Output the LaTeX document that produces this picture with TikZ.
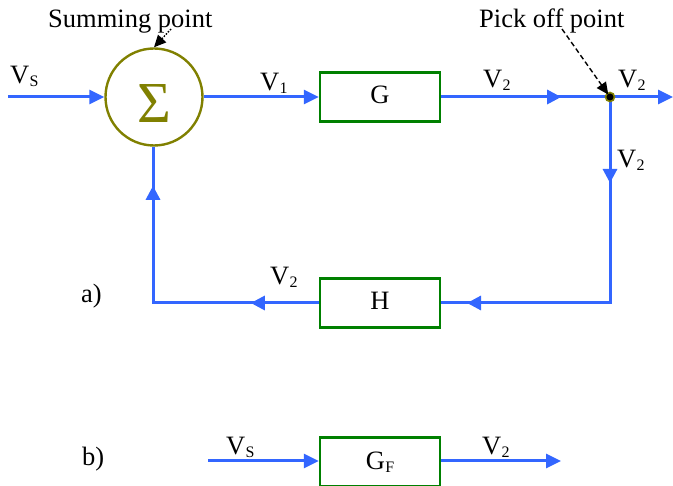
\documentclass[tikz,border=0pt]{standalone}
\usepackage{fontspec}
\setmainfont{Liberation Serif}
\usetikzlibrary{arrows.meta,decorations.markings}
\definecolor{sigblue}{HTML}{3366FF}
\definecolor{boxgreen}{HTML}{008000}
\definecolor{olivec}{HTML}{808000}
\newcommand{\mysub}[1]{\kern0.3pt\raisebox{-2.5pt}{\fontsize{16}{16}\selectfont #1}}
\begin{document}
\begin{tikzpicture}[x=1pt,y=-1pt,
  font=\fontsize{26.5}{30}\selectfont,
  blk/.style={draw=boxgreen,line width=2.4pt,minimum width=120pt,minimum height=49pt,inner sep=0pt,fill=white},
  sig/.style={draw=sigblue,line width=3pt},
  tip/.style={-{Triangle[length=15pt,width=14pt]}},
  lab/.style={anchor=base west,inner sep=0pt}]
\useasboundingbox (0,0) rectangle (673,486);

% blocks
\node[draw=olivec,line width=2.4pt,circle,minimum size=97pt,inner sep=0pt] (S) at (154,97) {};
\node[text=olivec,inner sep=0pt,font=\fontsize{58}{58}\selectfont] (sigma) at (154,104) {Σ};
\node[blk] (G) at (380,97) {\raisebox{4pt}{G}};
\node[blk] (H) at (380,303) {\raisebox{5pt}{H}};
\node[blk] (GF) at (380,462) {G\mysub{F}};

\coordinate (in) at (8,97);
\coordinate (P) at (610,97);
\coordinate (out) at (673,97);
\coordinate (rc) at (610,303);
\coordinate (lc) at (153,303);
\coordinate (bin) at (208,461);
\coordinate (bout) at (561,461);

% connectors a)
\draw[sig,tip] (in) -- (S.west);
\draw[sig,tip] (S.east) -- (G.west);
\draw[sig,postaction={decorate},decoration={markings,
   mark=at position 120pt with {\arrow{Triangle[length=14pt,width=14pt]}}}]
   (G.east) -- (P);
\draw[sig,tip] (P) -- (out);
\draw[sig,postaction={decorate},decoration={markings,
   mark=at position 86pt with {\arrow{Triangle[length=14pt,width=14pt]}},
   mark=at position 349pt with {\arrow{Triangle[length=14pt,width=14pt]}}}]
   (P) -- (rc) -- (H.east);
\draw[sig,postaction={decorate},decoration={markings,
   mark=at position 68pt with {\arrow{Triangle[length=14pt,width=14pt]}},
   mark=at position 283pt with {\arrow{Triangle[length=14pt,width=14pt]}}}]
   (H.west) -- (lc) -- (S.south -| lc);

% pick off dot
\node[circle,fill=black,draw=olivec,line width=1.6pt,inner sep=0pt,minimum size=9pt] (Pdot) at (P) {};

% connectors b)
\draw[sig,tip] (bin) -- (GF.west |- bin);
\draw[sig,tip] (GF.east |- bout) -- (bout);

% annotations
\node[lab] (sumtxt) at (48,28) {Summing point};
\node[lab] (picktxt) at (479,28) {Pick off point};
\coordinate (sa) at (171,29);
\coordinate (pa) at (562,29);
\draw[line width=1.4pt,dash pattern=on 1.5pt off 1.5pt,-{Triangle[length=12pt,width=11pt]}] (sa) -- (S.north);
\draw[line width=1.4pt,dash pattern=on 5pt off 3pt,-{Triangle[length=12pt,width=11pt]},shorten >=3pt] (pa) -- (Pdot.center);

% labels
\node[lab] (lvs) at (10,84) {V\mysub{S}};
\node[lab] (lv1) at (260,91) {V\mysub{1}};
\node[lab] (lv2a) at (483,88) {V\mysub{2}};
\node[lab] (lv2b) at (618,88) {V\mysub{2}};
\node[lab] (lv2c) at (617,168) {V\mysub{2}};
\node[lab] (lv2d) at (270,285) {V\mysub{2}};
\node[lab] (la) at (81,303) {a)};
\node[lab] (lb) at (82,466) {b)};
\node[lab] (lvsb) at (226,455) {V\mysub{S}};
\node[lab] (lv2e) at (482,455) {V\mysub{2}};
\end{tikzpicture}
\end{document}
